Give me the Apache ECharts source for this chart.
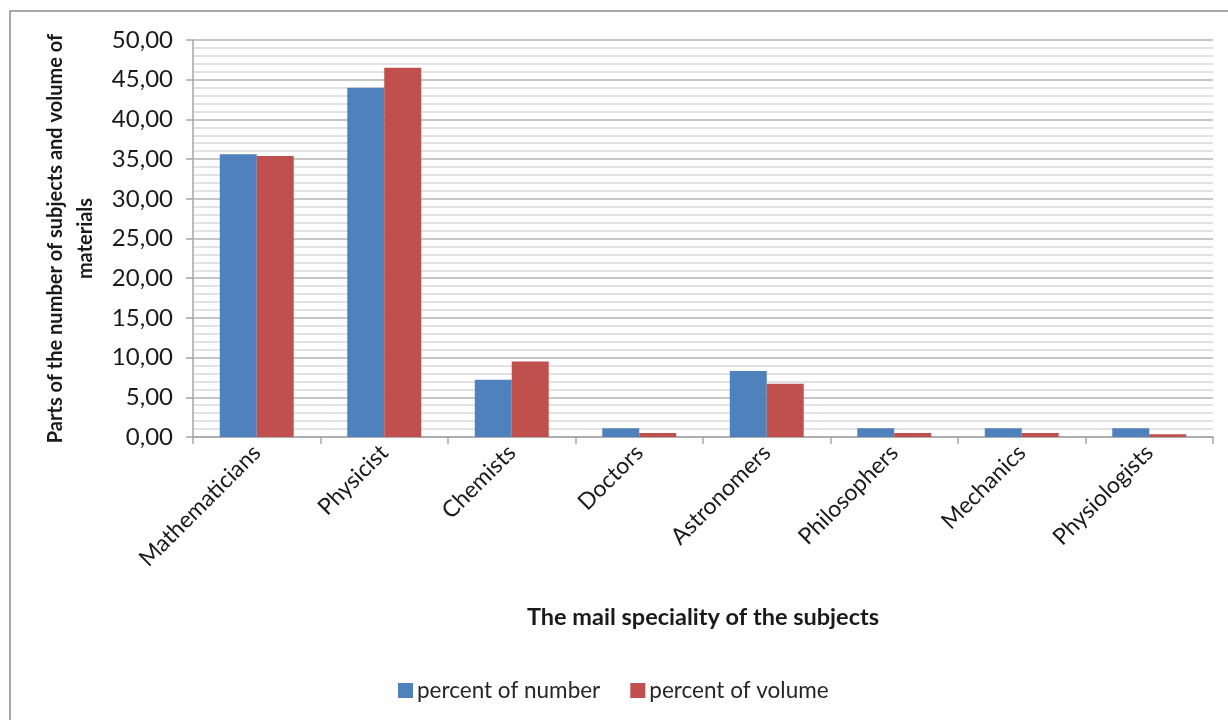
<!DOCTYPE html>
<html>
<head>
<meta charset="utf-8">
<script src="https://cdn.jsdelivr.net/npm/echarts@6/dist/echarts.min.js"></script>
<style>
  html, body { margin: 0; padding: 0; background: #ffffff; }
  #chart { width: 1228px; height: 720px; }
</style>
</head>
<body>
<div id="chart"></div>
<script>
// Subject specialities and their shares (percent)
const categories = ['Mathematicians', 'Physicist', 'Chemists', 'Doctors', 'Astronomers', 'Philosophers', 'Mechanics', 'Physiologists'];
const percentOfNumber = [35.6, 44.0, 7.2, 1.1, 8.3, 1.1, 1.1, 1.1];
const percentOfVolume = [35.4, 46.5, 9.5, 0.5, 6.7, 0.5, 0.5, 0.35];
const seriesNames = ['percent of number', 'percent of volume'];
const yMin = 0, yMax = 50, yStep = 5;

const FONT = 'Lato';
const chart = echarts.init(document.getElementById('chart'));

chart.setOption({
  animation: false,
  textStyle: { fontFamily: FONT },
  graphic: [{
    type: 'rect',
    shape: { x: 10, y: 11, width: 1260, height: 760 },
    style: { fill: 'none', stroke: '#8c8c8c', lineWidth: 1.5 },
    silent: true,
    z: -1
  }],
  legend: {
    data: seriesNames,
    top: 674,
    left: 393,
    icon: 'rect',
    itemWidth: 15,
    itemHeight: 15,
    itemGap: 30,
    textStyle: { fontFamily: FONT, fontSize: 22.5, color: '#262626', padding: [0, 0, 0, -1] }
  },
  grid: { left: 193, right: 15, top: 40, bottom: 283 },
  xAxis: {
    type: 'category',
    data: categories,
    name: 'The mail speciality of the subjects',
    nameLocation: 'middle',
    nameGap: 168,
    nameTextStyle: { fontFamily: FONT, fontSize: 23.5, fontWeight: 'bold', color: '#1a1a1a' },
    axisLine: { lineStyle: { color: '#a6a6a6', width: 1.5 } },
    axisTick: { show: true, length: 7, lineStyle: { color: '#a6a6a6', width: 1.5 } },
    axisLabel: { rotate: 45, fontFamily: FONT, fontSize: 23, color: '#1a1a1a', margin: 12 }
  },
  yAxis: {
    type: 'value',
    min: yMin,
    max: yMax,
    interval: yStep,
    name: 'Parts of the number of subjects and volume of\nmaterials',
    nameLocation: 'middle',
    nameRotate: 90,
    nameGap: 76,
    nameTextStyle: { fontFamily: FONT, fontSize: 20, fontWeight: 'bold', color: '#1a1a1a', lineHeight: 30, align: 'center' },
    axisLine: { show: true, lineStyle: { color: '#a6a6a6', width: 1.5 } },
    axisTick: { show: true, length: 7, lineStyle: { color: '#a6a6a6', width: 1.5 } },
    axisLabel: {
      fontFamily: FONT, fontSize: 24, color: '#1a1a1a', margin: 20,
      formatter: v => v.toFixed(2).replace('.', ',')
    },
    splitLine: { show: true, lineStyle: { color: '#b5b5b5', width: 1.5 } },
    minorTick: { show: false, splitNumber: 5 },
    minorSplitLine: { show: true, lineStyle: { color: '#d9d9d9', width: 1.5 } }
  },
  series: [
    {
      name: seriesNames[0],
      type: 'bar',
      data: percentOfNumber,
      barGap: '0%',
      barCategoryGap: '42%',
      itemStyle: { color: '#4f81bd' }
    },
    {
      name: seriesNames[1],
      type: 'bar',
      data: percentOfVolume,
      itemStyle: { color: '#c0504d' }
    }
  ]
});
</script>
</body>
</html>
